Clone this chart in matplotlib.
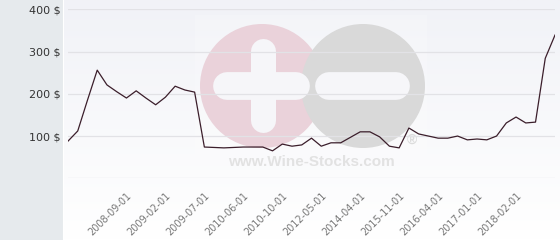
import numpy as np
import matplotlib.pyplot as plt
from matplotlib.colors import LinearSegmentedColormap
from matplotlib.patches import Circle, Rectangle

# price history (one point per observation date)
prices = [88, 112, 185, 256, 221, 205, 190, 207, 190, 174,
          192, 218, 209, 204, 74, 73, 72, 73, 74, 74,
          74, 65, 81, 76, 79, 95, 76, 84, 84, 97,
          110, 110, 98, 76, 72, 119, 105, 100, 95, 95,
          100, 91, 93, 91, 100, 131, 145, 131, 133, 284,
          339]
tick_idx = [6, 10, 14, 18, 22, 26, 30, 34, 38, 42, 46]
tick_labels = ["2008-09-01", "2009-02-01", "2009-07-01", "2010-06-01",
               "2010-10-01", "2012-05-01", "2014-04-01", "2015-11-01",
               "2016-04-01", "2017-01-01", "2018-02-01"]
y_ticks = [100, 200, 300, 400]

W, H = 560, 240
fig = plt.figure(figsize=(W / 100, H / 100), dpi=100)
fig.patch.set_facecolor("#e6eaed")

# background panel with soft vertical gradient + watermark, in pixel coords
bg = fig.add_axes([0, 0, 1, 1], zorder=0)
bg.set_xlim(0, W)
bg.set_ylim(H, 0)
bg.axis("off")
grad = np.linspace(0, 1, 100).reshape(-1, 1)
cmap = LinearSegmentedColormap.from_list("g", ["#f1f2f7", "#ffffff"])
bg.imshow(grad, extent=(63, W, H, 0), cmap=cmap, aspect="auto", zorder=0)
bg.plot([62.5, 62.5], [0, H], color="white", lw=0.8, zorder=1)
bg.add_patch(Rectangle((195, 15), 232, 163, color="white", alpha=0.2, lw=0, zorder=1))

bg.add_patch(Circle((262, 86), 62, color="#ead2da", lw=0, zorder=2))
bg.add_patch(Circle((363, 86), 62, color="#d9d9d9", lw=0, zorder=3))
bg.plot([227, 296], [86, 86], color="#f6f6f9", lw=20, solid_capstyle="round", zorder=4)
bg.plot([262.5, 262.5], [51, 120], color="#f6f6f9", lw=18, solid_capstyle="round", zorder=4)
bg.plot([329, 396], [86, 86], color="#f6f6f9", lw=20, solid_capstyle="round", zorder=4)
bg.text(311, 162, "www.Wine-Stocks.com", family="Liberation Sans", weight="bold",
        fontsize=11, color="#e2e2e2", ha="center", va="center", zorder=4)
bg.text(412, 140, "®", family="Liberation Sans", weight="bold",
        fontsize=10, color="#dcdcdc", ha="center", va="center", zorder=4)

# main chart
ax = fig.add_axes([68 / W, 1 - 178.3 / H, (555 - 68) / W, (178.3 - 9.3) / H], zorder=1)
ax.set_facecolor("none")
x = np.arange(len(prices))
ax.plot(x, prices, color="#3b1e2b", lw=0.9, zorder=3)
ax.set_xlim(0, len(prices) - 1)
ax.set_ylim(0, 400)

for v in [0] + y_ticks:
    ax.axhline(v, color="#e2e2e6", lw=0.9, zorder=1)

for s in ax.spines.values():
    s.set_visible(False)

ax.set_yticks(y_ticks)
ax.set_yticklabels([f"{v} $" for v in y_ticks], fontsize=8, color="#333333",
                   family="DejaVu Sans")
ax.tick_params(axis="y", length=0, pad=5.5)

ax.set_xticks(tick_idx)
ax.set_xticklabels(tick_labels, rotation=45, ha="right", rotation_mode="anchor",
                   fontsize=7, color="#777777")
ax.tick_params(axis="x", length=0, pad=9)

fig.savefig("out.png", dpi=100)
